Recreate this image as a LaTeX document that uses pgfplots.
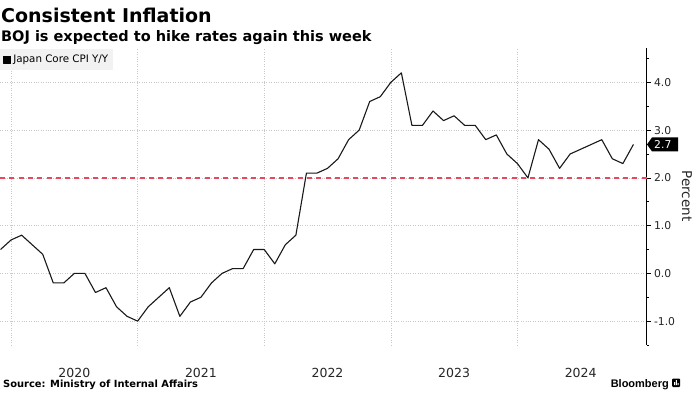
\documentclass[border=0pt]{standalone}
\usepackage{pgfplots}
\pgfplotsset{compat=1.18}
\usepackage{fontspec}
\setmainfont{DejaVu Sans}
\newfontfamily\lib{Liberation Sans}
\definecolor{gridc}{HTML}{C8C8C8}
\definecolor{refred}{HTML}{E8475F}
\definecolor{legbg}{HTML}{F2F2F2}
\begin{document}
\begin{tikzpicture}
\path[use as bounding box, fill=white] (0pt,0pt) rectangle (696pt,392pt);
\node[anchor=base west, inner sep=0, font=\bfseries\fontsize{19}{22}\selectfont] at (1pt,370pt) {Consistent Inflation};
\node[anchor=base west, inner sep=0, font=\bfseries\fontsize{14.5}{17}\selectfont] at (1pt,350pt) {BOJ is expected to hike rates again this week};
\node[anchor=base west, inner sep=0, font=\bfseries\fontsize{9.9}{12}\selectfont] at (3pt,5pt) {Source: Ministry of Internal Affairs};
\node[anchor=base east, inner sep=0, font=\lib\bfseries\fontsize{11}{13}\selectfont] at (669pt,5pt) {Bloomberg};
\fill[black, rounded corners=1pt] (672pt,5pt) rectangle (680pt,13.5pt);
\fill[white] (674pt,7pt) rectangle (675pt,10pt) (675.8pt,7pt) rectangle (676.8pt,12pt) (677.6pt,7pt) rectangle (678.6pt,9pt);
\begin{axis}[
  at={(0pt,47pt)}, anchor=south west,
  scale only axis, width=646.5pt, height=297pt,
  xmin=-1.05, xmax=60.24, ymin=-1.5, ymax=4.72,
  axis y line*=right, axis x line*=bottom,
  x axis line style={draw=none},
  y axis line style={black, line width=0.8pt},
  xtick={6,18,30,42,54},
  xticklabels={2020,2021,2022,2023,2024},
  x tick style={draw=none},
  xticklabel style={anchor=base, yshift=-28pt, font=\fontsize{12.5}{14}\selectfont, text=black!85},
  extra x ticks={0,12,24,36,48},
  extra x tick labels={},
  extra x tick style={grid=major, major grid style={gridc, dotted, line width=0.6pt}, tick style={draw=none}},
  ytick={-1,0,1,2,3,4},
  minor ytick={-1.5,-0.5,0.5,1.5,2.5,3.5,4.5},
  /pgf/number format/fixed, /pgf/number format/fixed zerofill,
  /pgf/number format/precision=1, /pgf/number format/assume math mode=true,
  yticklabel style={font=\fontsize{10.8}{12}\selectfont, text=black!85},
  tick align=outside,
  major tick length=4pt, minor tick length=2.5pt,
  y tick style={black, line width=0.6pt},
  ymajorgrids, y grid style={gridc, dotted, line width=0.6pt},
  clip=false,
  legend style={at={(0,1)}, yshift=-1pt, anchor=north west, fill=legbg, draw=none,
    font=\fontsize{10.3}{12}\selectfont, inner xsep=3pt, inner ysep=4pt},
  legend cell align=left,
  legend image code/.code={\fill[black] (0pt,-3.5pt) rectangle (7pt,3.5pt);},
]
\addplot[color=refred, dash pattern=on 5pt off 4.3pt, line width=1.3pt, forget plot] coordinates {(-1.05,2) (60.24,2)};
\addplot[black!90, line width=1.1pt, line join=round] coordinates {
(-1,0.5) (0,0.7) (1,0.8) (2,0.6) (3,0.4) (4,-0.2) (5,-0.2) (6,0.0) (7,0.0) (8,-0.4) (9,-0.3) (10,-0.7) (11,-0.9) (12,-1.0)
(13,-0.7) (14,-0.5) (15,-0.3) (16,-0.9) (17,-0.6) (18,-0.5) (19,-0.2) (20,0.0) (21,0.1) (22,0.1) (23,0.5) (24,0.5)
(25,0.2) (26,0.6) (27,0.8) (28,2.1) (29,2.1) (30,2.2) (31,2.4) (32,2.8) (33,3.0) (34,3.6) (35,3.7) (36,4.0)
(37,4.2) (38,3.1) (39,3.1) (40,3.4) (41,3.2) (42,3.3) (43,3.1) (44,3.1) (45,2.8) (46,2.9) (47,2.5) (48,2.3)
(49,2.0) (50,2.8) (51,2.6) (52,2.2) (53,2.5) (54,2.6) (55,2.7) (56,2.8) (57,2.4) (58,2.3) (59,2.7)
};
\addlegendentry{Japan Core CPI Y/Y}
\coordinate (lv) at (axis cs:60.24,2.7);
\end{axis}
\fill[black] ([xshift=0.5pt]lv) -- ++(5pt,7pt) -- ++(26pt,0pt) -- ++(0pt,-14pt) -- ++(-26pt,0pt) -- cycle;
\node[anchor=west, inner sep=0, text=white, font=\fontsize{10.8}{12}\selectfont] at ([xshift=7.5pt]lv) {2.7};
\node[rotate=-90, inner sep=0, font=\fontsize{13.5}{15}\selectfont, text=black!85] at (687pt,196pt) {Percent};
\end{tikzpicture}
\end{document}
